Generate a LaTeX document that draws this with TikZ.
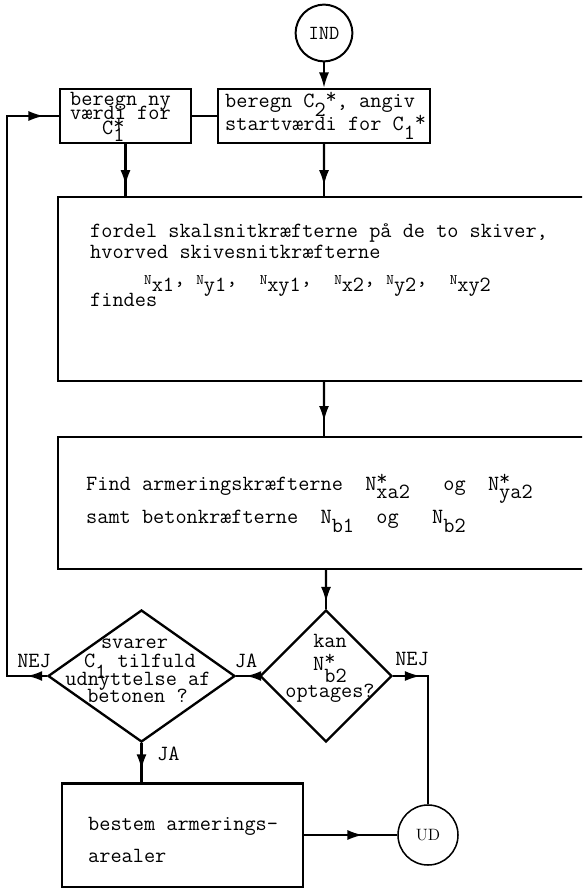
\documentclass[tikz,border=0pt]{standalone}
\usetikzlibrary{arrows.meta,positioning,calc,shapes.geometric,decorations.markings}

% lowered index and raised star, as on the typewriter
\newcommand{\ned}[2][0.9ex]{\smash{\raisebox{-#1}{#2}}}
\newcommand{\stj}{\smash{\raisebox{0.5ex}{*}}}
\newcommand{\Nlille}{{\fontsize{12.5}{12.5}\selectfont N}}

\begin{document}
\begin{tikzpicture}[
    x=0.3mm, y=-0.3mm,
    >=Latex,
    boks/.style={draw, line width=2pt, inner sep=0pt},
    valg/.style={diamond, draw, line width=2pt, inner sep=0pt},
    rund/.style={circle, draw, line width=1.7pt, inner sep=0pt},
    tt/.style={font=\fontsize{18.5}{20}\ttfamily, inner sep=0pt, anchor=base west},
    ttb/.style={font=\fontsize{18.5}{20}\ttfamily, inner sep=0pt},
    spids/.tip={Latex[length=4.6mm, width=3mm]},
    linje/.style={line width=1.8pt},
    pil/.style={line width=1.8pt, -spids},
    pilm/.style={line width=1.8pt, postaction={decorate},
        decoration={markings, mark=at position #1 with {\arrow{spids}}}}
]
\useasboundingbox (0,0) rectangle (582,888);
\clip (0,0) rectangle (582,888);

% start and the two first boxes
\node[rund, minimum size=17mm, font=\fontsize{17}{17}\ttfamily] (ind) at (324,33) {IND};
\node[boks, minimum width=39.3mm, minimum height=16.2mm] (box1) at (125.5,116) {};
\node[boks, minimum width=63.6mm, minimum height=16.2mm] (box2) at (324,116) {};
\node[ttb, anchor=base west] (b11) at (70,106) {beregn ny};
\node[ttb, anchor=base west] (b12) at (70,120) {værdi for};
\node[ttb, anchor=base west] (b13) at (102,135) {C\rlap{\ned[0.7ex]{1}}\stj};
\node[ttb, anchor=base west] (b21) at (225,108) {beregn C\ned{2}\stj, angiv};
\node[ttb, anchor=base west] (b22) at (225,131) {startværdi for C\ned{1}\stj};

% the two wide boxes
\node[boks, minimum width=162.6mm, minimum height=55.2mm] (fordel) at (329,289) {};
\node[tt] (f1) at (90,238) {fordel skalsnitkræfterne på de to skiver,};
\node[tt] (f2) at (90,259) {hvorved skivesnitkræfterne};
\node[tt] (f3) at (144,284) {\Nlille\ned[0.8ex]{x1},~\Nlille\ned[0.8ex]{y1},~~\Nlille\ned[0.8ex]{xy1},~~\Nlille\ned[0.8ex]{x2},~\Nlille\ned[0.8ex]{y2},~~\Nlille\ned[0.8ex]{xy2}};
\node[tt] (f4) at (90,306) {findes};

\node[boks, minimum width=162.6mm, minimum height=39.6mm] (find) at (329,503) {};
\node[tt] (a1) at (86,490) {Find armeringskræfterne~~N\rlap{\stj}\ned{xa2}~~~og~~N\rlap{\stj}\ned{ya2}};
\node[tt] (a2) at (86,523) {samt betonkræfterne~~N\ned[1ex]{b1}~~og~~~N\ned[1ex]{b2}};

% decisions
\node[valg, minimum width=39.6mm, minimum height=39.6mm] (kan) at (326,676) {};
\node[ttb, anchor=base] (k1) at (330,647) {kan};
\node[ttb, anchor=base west] (k2) at (313,670) {N\rlap{\stj}\ned[1.3ex]{b2}};
\node[ttb, anchor=base] (k3) at (330,697) {optages?};

\node[valg, minimum width=56.1mm, minimum height=39.6mm] (svarer) at (141.5,676) {};
\node[ttb, anchor=base] (s1) at (134.5,648) {svarer};
\node[ttb, anchor=base west] (s2) at (84,667) {C\ned[1.2ex]{1}~tilfuld};
\node[ttb, anchor=base] (s3) at (138,685) {udnyttelse af};
\node[ttb, anchor=base] (s4) at (137.5,702) {betonen ?};

\node[ttb, anchor=base] (nej1) at (34,667) {NEJ};
\node[ttb, anchor=base] (ja1) at (246,667) {JA};
\node[ttb, anchor=base] (nej2) at (412,665) {NEJ};
\node[ttb, anchor=base west] (ja2) at (157,760) {JA};

% end
\node[boks, minimum width=72.3mm, minimum height=31mm] (bestem) at (182.5,835) {};
\node[ttb, anchor=base west] (be1) at (88,830) {bestem armerings-};
\node[ttb, anchor=base west] (be2) at (88,862) {arealer};
\node[rund, line width=1.3pt, minimum size=18mm, font=\fontsize{14}{14}\rmfamily] (ud) at (428,835) {UD};

\coordinate (retur) at (7,676);
\coordinate (nejR) at (ud |- kan.east);

% connectors
\draw[pil] (ind) -- (box2);
\draw[linje] (box1) -- (box2);
\draw[linje] (box1.south) -- (box1.south |- fordel.north);
\draw[pil] (box1.south) -- ($(box1.south)!0.8!(box1.south |- fordel.north)$);
\draw[linje] (box2.south) -- (box2.south |- fordel.north);
\draw[pil] (box2.south) -- ($(box2.south)!0.8!(box2.south |- fordel.north)$);
\draw[linje] (fordel.south -| ind) -- (find.north -| ind);
\draw[pil] (fordel.south -| ind) -- ($(fordel.south -| ind)!0.73!(find.north -| ind)$);
\draw[linje] (find.south -| kan) -- (kan.north);
\draw[pil] (find.south -| kan) -- ($(find.south -| kan)!0.83!(kan.north)$);
\draw[linje] (svarer.south) -- (svarer.south |- bestem.north);
\draw[pil] (svarer.south) -- ($(svarer.south)!0.68!(svarer.south |- bestem.north)$);
\draw[pilm=3.9mm] (kan.west) -- (svarer.east);
\draw[linje, postaction={decorate},
    decoration={markings,
        mark=at position 6mm with {\arrow{spids}},
        mark=at position -4.5mm with {\arrow{spids}}}]
    (svarer.west) -- (retur) -- (retur |- box1.west) -- (box1.west);
\draw[line width=1.3pt, postaction={decorate},
    decoration={markings, mark=at position 8.1mm with {\arrow{spids}}}]
    (kan.east) -- (nejR) -- (ud.north);
\draw[pilm=0.63] (bestem.east) -- (ud.west);
\end{tikzpicture}
\end{document}
